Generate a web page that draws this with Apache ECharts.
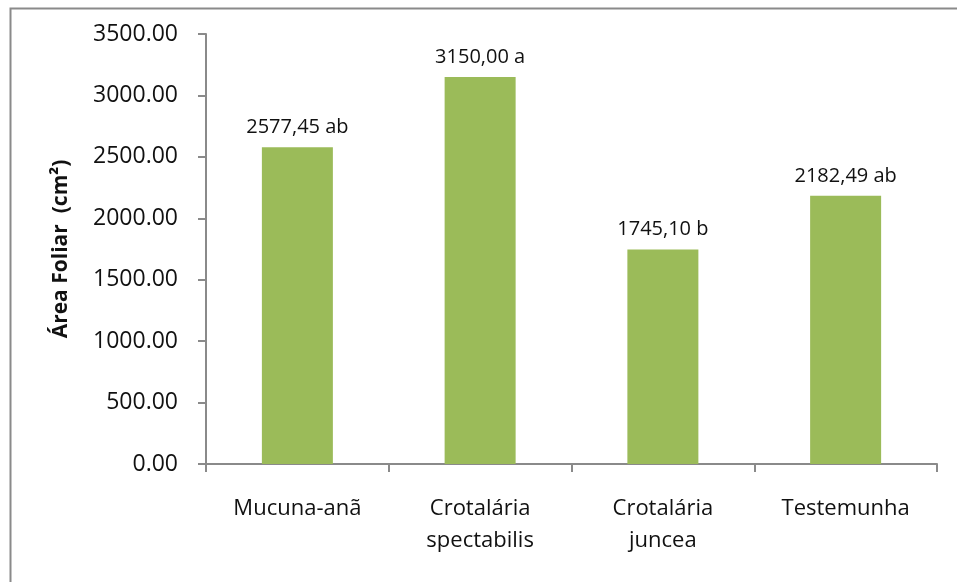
<!DOCTYPE html>
<html>
<head>
<meta charset="utf-8">
<script src="https://cdn.jsdelivr.net/npm/echarts@6/dist/echarts.min.js"></script>
<style>
  html, body { margin: 0; padding: 0; background: #fff; }
  #chart { width: 957px; height: 582px; }
</style>
</head>
<body>
<div id="chart"></div>
<script>
// Leaf area per cover crop treatment, with Tukey letters
const categories = ['Mucuna-anã', 'Crotalária\nspectabilis', 'Crotalária\njuncea', 'Testemunha'];
const leafArea = [2577.45, 3150.00, 1745.10, 2182.49];
const letters = ['ab', 'a', 'b', 'ab'];
const yTicks = { min: 0, max: 3500, interval: 500 };

const FONT = '"Open Sans", sans-serif';
const AXIS_GRAY = '#8a8a8a';

const chart = echarts.init(document.getElementById('chart'), null, { renderer: 'canvas' });

chart.setOption({
  animation: false,
  backgroundColor: '#ffffff',
  graphic: [{
    type: 'rect',
    left: 8, top: 6,
    shape: { x: 0, y: 0, width: 1200, height: 1200 },
    style: { fill: 'none', stroke: AXIS_GRAY, lineWidth: 2 },
    silent: true, z: -1
  }],
  grid: { left: 206, right: 20, top: 34, bottom: 118 },
  xAxis: {
    type: 'category',
    data: categories,
    axisLine: { lineStyle: { color: AXIS_GRAY, width: 2 } },
    axisTick: { show: true, length: 8, lineStyle: { color: AXIS_GRAY, width: 2 } },
    axisLabel: {
      color: '#111', fontFamily: FONT, fontSize: 22, lineHeight: 32,
      margin: 29, interval: 0
    }
  },
  yAxis: {
    type: 'value',
    min: yTicks.min, max: yTicks.max, interval: yTicks.interval,
    name: 'Área Foliar  (cm²)',
    nameLocation: 'middle',
    nameRotate: 90,
    nameGap: 134,
    nameTextStyle: { color: '#111', fontFamily: FONT, fontSize: 21, fontWeight: 'bold' },
    axisLine: { show: true, lineStyle: { color: AXIS_GRAY, width: 2 } },
    axisTick: { show: true, length: 8, lineStyle: { color: AXIS_GRAY, width: 2 } },
    splitLine: { show: false },
    axisLabel: {
      color: '#111', fontFamily: FONT, fontSize: 23, margin: 28,
      formatter: v => v.toFixed(2)
    }
  },
  series: [{
    type: 'bar',
    data: leafArea,
    barWidth: 71,
    itemStyle: { color: '#9bbb59' },
    label: {
      show: true,
      position: 'top',
      distance: 10,
      color: '#111',
      fontFamily: FONT,
      fontSize: 20,
      formatter: p => p.value.toFixed(2).replace('.', ',') + ' ' + letters[p.dataIndex]
    }
  }]
});
</script>
</body>
</html>
